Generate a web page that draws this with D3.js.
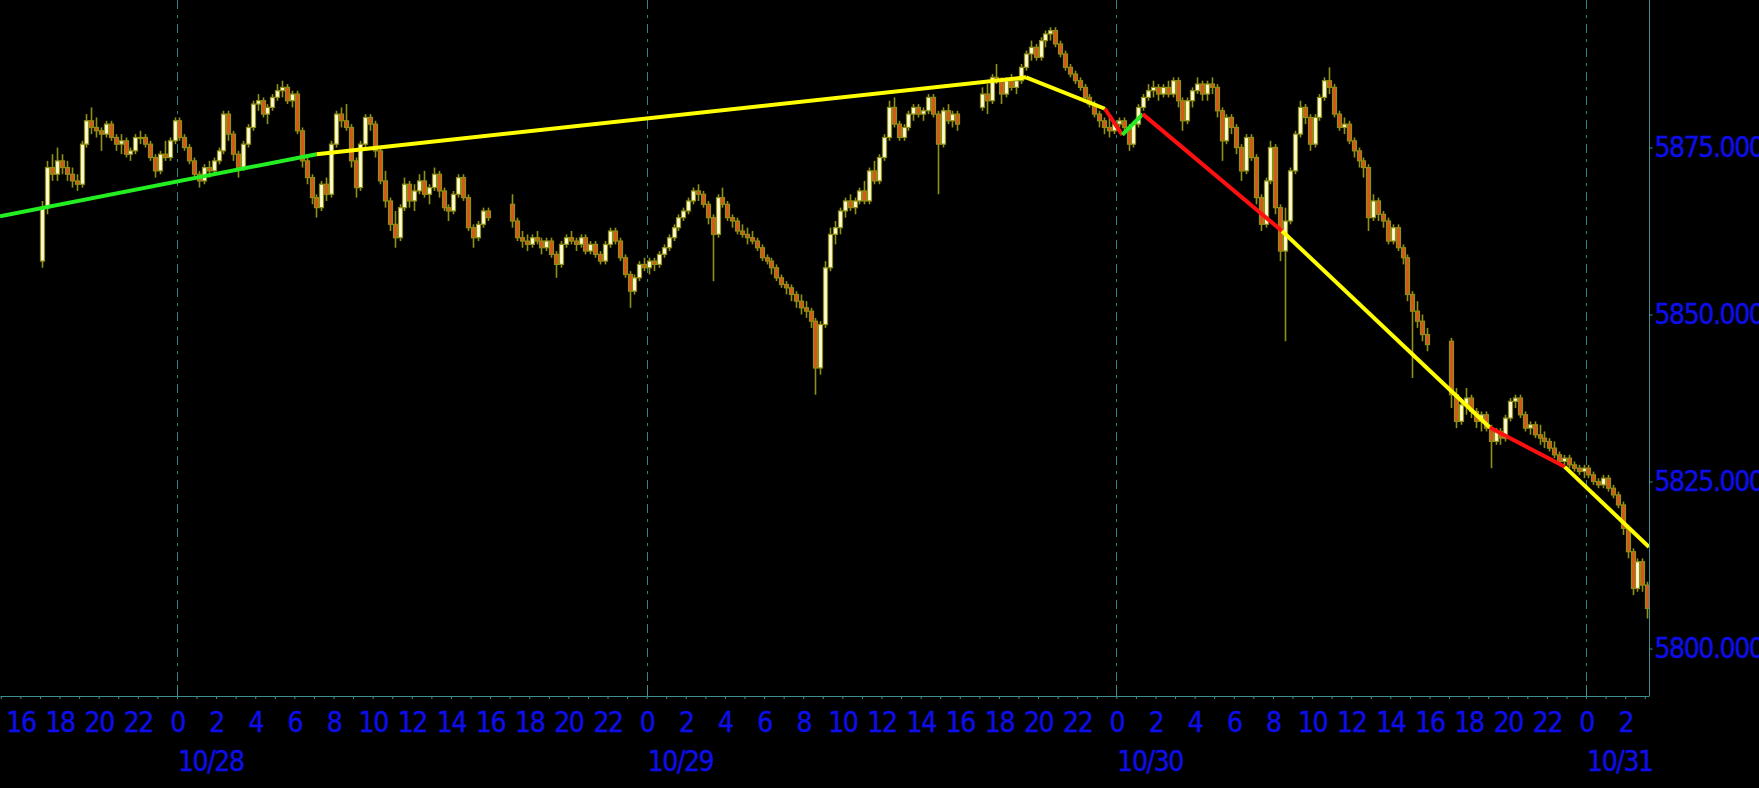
<!DOCTYPE html>
<html><head><meta charset="utf-8">
<script src="https://cdn.jsdelivr.net/npm/d3@7"></script>
<style>html,body{margin:0;padding:0;background:#000;overflow:hidden}svg{display:block}</style>
</head><body>
<svg id="c" width="1759" height="788"></svg>
<script>
// ---------- DATA (15-minute bars, [open, high, low, close]) ----------
const sessionStarts = ["2024-10-27T17:00:00Z","2024-10-28T17:00:00Z","2024-10-29T17:00:00Z","2024-10-30T17:00:00Z"];
const barMinutes = 15;
const session1 = [
[5858,5867,5857,5866],[5866,5873,5865,5872],[5872,5874,5870,5871],[5871,5875,5870,5873],
[5873,5874,5871,5872],[5872,5873,5870,5871],[5871,5872,5869,5870],[5870,5871,5868.5,5869.5],
[5869.5,5876,5869,5875.5],[5875.5,5880,5875,5879],[5879,5881,5877,5878],[5878,5879.5,5876.5,5877.5],
[5877.5,5878,5874.5,5877],[5877,5879,5876.5,5878.5],[5878.5,5879,5876,5876.5],[5876.5,5877,5874.5,5875.5],
[5875.5,5877,5874,5876],[5876,5876.5,5873.5,5874],[5874,5875,5873,5874.5],[5874.5,5877,5874,5876.5],
[5876.5,5877.5,5875.5,5876.5],[5876.5,5877,5875,5875.5],[5875.5,5876,5873,5873.5],[5873.5,5874,5870.5,5871.5],
[5871.5,5874.5,5871,5874],[5874,5876,5873,5873.5],[5873.5,5876.5,5873,5876],[5876,5879.5,5875.5,5879],
[5879,5879.5,5876,5876.5],[5876.5,5877,5874.5,5875],[5875,5875.5,5872.5,5873],[5873,5873.5,5870.5,5871],
[5871,5871.5,5869,5870],[5870,5872.5,5869.5,5872],[5872,5873,5870.5,5871.5],[5871.5,5873.5,5871,5873],
[5873,5875,5872.5,5874.5],[5874.5,5880.5,5874,5880],[5880,5880.5,5876,5877],[5877,5877.5,5873,5874],
[5874,5874.5,5870.5,5872],[5872,5876,5871.5,5875.5],[5875.5,5878.5,5875,5878],[5878,5882,5877.5,5881.5],
[5881.5,5883,5880.5,5882],[5882,5882.5,5879.5,5880],[5880,5881.5,5878.5,5881],[5881,5883,5880.5,5882.5],
[5882.5,5884.5,5882,5883.5],[5883.5,5885,5882.5,5884],[5884,5884.5,5881.5,5882],[5882,5883.5,5881,5883],
[5883,5883.5,5877,5877.5],[5877.5,5878,5872,5873],[5873,5874,5869.5,5870.5],[5870.5,5871,5866.5,5867.5],
[5867.5,5868,5864.5,5866],[5866,5870,5865.5,5869.5],[5869.5,5870.5,5867,5868],[5868,5876,5867.5,5875.5],
[5875.5,5880.5,5875,5880],[5880,5881,5878,5879],[5879,5881.5,5877.5,5878],[5878,5878.5,5872,5873],
[5873,5873.5,5867.5,5869],[5869,5876,5868.5,5875.5],[5875.5,5880,5875,5879.5],[5879.5,5880,5877.5,5878.5],
[5878.5,5879,5873.5,5874.5],[5874.5,5875,5869.5,5870],[5870,5871.5,5866,5867],[5867,5867.5,5862.5,5863.5],
[5863.5,5865.5,5860,5861.5],[5861.5,5866.5,5861,5866],[5866,5870.5,5865.5,5869.5],[5869.5,5870,5866,5867],
[5867,5869.5,5865.5,5868.5],[5868.5,5871,5868,5870],[5870,5871.5,5867.5,5868],[5868,5869.5,5866.5,5869],
[5869,5872,5868.5,5871],[5871,5871.5,5867.5,5868.5],[5868.5,5869,5865.5,5866],[5866,5866.5,5864,5865.5],
[5865.5,5868.5,5865,5868],[5868,5871,5867.5,5870.5],[5870.5,5871,5867,5867.5],[5867.5,5868,5862.5,5863],
[5863,5863.5,5860,5861.5],[5861.5,5864,5861,5863.5],[5863.5,5866,5863,5865.5],[5865.5,5866,5864,5864.5]
];
const session2 = [
[5866.5,5868,5863,5864],[5864,5864.5,5861,5861.5],[5861.5,5862.5,5860,5861],[5861,5862,5859.5,5860.5],
[5860.5,5862,5860,5861.5],[5861.5,5862.5,5860.5,5861],[5861,5861.5,5859,5860],[5860,5861.5,5859.5,5861],
[5861,5861.5,5858.5,5859],[5859,5859.5,5855.5,5857.5],[5857.5,5861,5857,5860.5],[5860.5,5862,5860,5861.5],
[5861.5,5862.5,5860.5,5861],[5861,5861.5,5859.5,5860.5],[5860.5,5862,5860,5861.5],[5861.5,5862,5859,5859.5],
[5859.5,5861,5859,5860.5],[5860.5,5861,5858.5,5859],[5859,5859.5,5857.5,5858],[5858,5861,5857.5,5860.5],
[5860.5,5863,5860,5862.5],[5862.5,5863,5860.5,5861],[5861,5861.5,5858,5858.5],[5858.5,5859,5855.5,5856],
[5856,5856.5,5851,5853.5],[5853.5,5856,5853,5855.5],[5855.5,5858,5855,5857.5],[5857.5,5858.5,5856.5,5857],
[5857,5858.5,5856,5858],[5858,5858.5,5856.5,5857.5],[5857.5,5859.5,5857,5859],[5859,5860.5,5858.5,5860],
[5860,5862,5859.5,5861.5],[5861.5,5863.5,5861,5863],[5863,5865,5862.5,5864.5],[5864.5,5866,5864,5865.5],
[5865.5,5867.5,5865,5867],[5867,5869,5866.5,5868.5],[5868.5,5869.5,5867,5868],[5868,5868.5,5866,5866.5],
[5866.5,5867,5863.5,5864.5],[5864.5,5865,5855,5862],[5862,5868,5861.5,5867.5],[5867.5,5869,5866,5866.5],
[5866.5,5867,5864,5864.5],[5864.5,5865,5863,5864],[5864,5864.5,5862,5862.5],[5862.5,5863.5,5861.5,5862],
[5862,5863,5860.5,5861.5],[5861.5,5862.5,5860.5,5861],[5861,5861.5,5859.5,5860],[5860,5860.5,5858,5858.5],
[5858.5,5859,5857.5,5858],[5858,5858.5,5856,5857],[5857,5857.5,5855,5855.5],[5855.5,5856,5854,5854.5],
[5854.5,5855,5853,5854],[5854,5854.5,5852,5853],[5853,5853.5,5851,5852],[5852,5853,5850,5851],
[5851,5852,5849.5,5850.5],[5850.5,5851,5848,5849],[5849,5849.5,5838,5842],[5842,5849,5841,5848.5],
[5848.5,5858,5848,5857],[5857,5863,5856.5,5862],[5862,5864,5860.5,5863],[5863,5866,5862,5865.5],
[5865.5,5867.5,5864.5,5867],[5867,5868,5865.5,5866],[5866,5867.5,5865,5867],[5867,5869,5866.5,5868.5],
[5868.5,5870,5866.5,5867],[5867,5872,5866.5,5871.5],[5871.5,5873,5869.5,5870],[5870,5874,5869.5,5873.5],
[5873.5,5877,5873,5876.5],[5876.5,5882,5876,5881],[5881,5882.5,5878,5878.5],[5878.5,5879,5876,5876.5],
[5876.5,5878.5,5876,5878],[5878,5880.5,5877.5,5880],[5880,5881.5,5879,5881],[5881,5881.5,5879.5,5880],
[5880,5881,5879,5880.5],[5880.5,5883,5880,5882.5],[5882.5,5883,5879.5,5880],[5880,5880.5,5868,5875.5],
[5875.5,5881,5875,5880.5],[5880.5,5881.5,5878.5,5879],[5879,5880.5,5878,5880],[5880,5880.5,5877.5,5878.5]
];
const session3 = [
[5881,5884,5880.5,5883],[5883,5884.5,5880,5882],[5882,5886,5881.5,5885.5],[5885.5,5887.5,5884.5,5885],
[5885,5885.5,5881.5,5883],[5883,5885.5,5882.5,5885],[5885,5886,5883.5,5884],[5884,5885.5,5883,5885],
[5885,5887.5,5884.5,5887],[5887,5889.5,5886.5,5889],[5889,5891,5888,5890],[5890,5890.5,5888,5888.5],
[5888.5,5891.5,5888,5891],[5891,5892.5,5890,5892],[5892,5893,5891,5892.5],[5892.5,5893,5890,5890.5],
[5890.5,5891,5888.5,5889],[5889,5889.5,5886.5,5887],[5887,5887.5,5885.5,5886],[5886,5886.5,5884.5,5885],
[5885,5885.5,5883.5,5884],[5884,5884.5,5882,5882.5],[5882.5,5883,5881,5881.5],[5881.5,5882,5879.5,5880],
[5880,5880.5,5878,5879],[5879,5879.5,5877,5878],[5878,5879.5,5876.5,5877.5],[5877.5,5879,5877,5878.5],
[5878.5,5879.5,5878,5879],[5879,5879.5,5877.5,5878],[5878,5878.5,5874.5,5875.5],[5875.5,5879,5875,5878.5],
[5878.5,5881.5,5878,5881],[5881,5883,5880.5,5882.5],[5882.5,5884.5,5882,5883.5],[5883.5,5885,5882.5,5884],
[5884,5884.5,5882,5883],[5883,5884.5,5882.5,5884],[5884,5885,5882.5,5883],[5883,5885.5,5882.5,5885],
[5885,5885.5,5881,5882],[5882,5882.5,5877.5,5879],[5879,5882.5,5878.5,5882],[5882,5884,5881,5883.5],
[5883.5,5885.5,5883,5884.5],[5884.5,5885,5882,5883],[5883,5885,5882,5884.5],[5884.5,5885.5,5883,5884],
[5884,5884.5,5879.5,5880.5],[5880.5,5881,5873,5876],[5876,5880,5875.5,5879.5],[5879.5,5880,5877,5878],
[5878,5878.5,5874,5875],[5875,5875.5,5870,5871.5],[5871.5,5877,5871,5876.5],[5876.5,5877,5873,5873.5],
[5873.5,5874,5866.5,5867.5],[5867.5,5868,5862.5,5863.5],[5863.5,5870.5,5863,5870],[5870,5876,5869.5,5875],
[5875,5875.5,5865,5866],[5866,5866.5,5858,5859.5],[5859.5,5866,5846,5864],[5864,5872,5863.5,5871.5],
[5871.5,5877.5,5871,5877],[5877,5882,5876.5,5881],[5881,5881.5,5878.5,5879.5],[5879.5,5880,5874.5,5875.5],
[5875.5,5880,5875,5879.5],[5879.5,5883,5879,5882.5],[5882.5,5885.5,5882,5885],[5885,5887,5883,5884],
[5884,5884.5,5879.5,5880],[5880,5880.5,5877.5,5878],[5878,5879.5,5877,5878.5],[5878.5,5879,5875.5,5876],
[5876,5876.5,5873.5,5874.5],[5874.5,5875,5872,5873],[5873,5873.5,5870.5,5872],[5872,5872.5,5862.5,5864.5],
[5864.5,5868,5864,5867],[5867,5867.5,5864,5865],[5865,5865.5,5863,5864],[5864,5864.5,5860.5,5861],
[5861,5863.5,5860.5,5863],[5863,5863.5,5859.5,5860],[5860,5860.5,5857.5,5858.5],[5858.5,5859,5852,5853],
[5853,5853.5,5840.5,5850.5],[5850.5,5852,5848,5849],[5849,5850,5846,5847],[5847,5848,5844.5,5845.5]
];
const session4 = [
[5846,5846.5,5836,5838],[5838,5839,5833,5834],[5834,5837,5833.5,5836.5],[5836.5,5839,5835,5837.5],
[5837.5,5838,5834.5,5835.5],[5835.5,5836,5833,5834],[5834,5835.5,5832.5,5835],[5835,5835.5,5832.5,5833],
[5833,5833.5,5827,5831],[5831,5833,5830.5,5832.5],[5832.5,5833,5830.5,5831.5],[5831.5,5835,5831,5834.5],
[5834.5,5837.5,5834,5837],[5837,5838,5836,5837.5],[5837.5,5838,5834.5,5835],[5835,5835.5,5832.5,5833],
[5833,5834,5832,5833.5],[5833.5,5834,5831.5,5832],[5832,5833.5,5830.5,5831.5],[5831.5,5832.5,5830,5831],
[5831,5831.5,5829.5,5830],[5830,5831,5828.5,5829],[5829,5829.5,5827.5,5828],[5828,5829,5827,5828.5],
[5828.5,5829,5827,5827.5],[5827.5,5828,5826.5,5827],[5827,5827.5,5826,5826.5],[5826.5,5827.5,5825.5,5827],
[5827,5827.5,5825.5,5826],[5826,5826.5,5824.5,5825],[5825,5825.5,5824,5824.5],[5824.5,5826,5824,5825.5],
[5825.5,5826,5823.5,5824],[5824,5824.5,5822.5,5823],[5823,5823.5,5821,5821.5],[5821.5,5822,5817,5818],
[5818,5818.5,5813.5,5814.5],[5814.5,5815,5808,5809],[5809,5813.5,5808.5,5813],[5813,5813.5,5808.5,5809.5],
[5809.5,5810,5804.5,5806]
];
const sessions = [session1, session2, session3, session4];

// trend-line vertices (time, price) and segment colours
const trendTimes  = ["2024-10-27T14:57:30Z","2024-10-28T07:08:00Z","2024-10-29T19:23:00Z","2024-10-29T23:25:00Z",
                     "2024-10-30T00:18:00Z","2024-10-30T01:21:00Z","2024-10-30T08:28:00Z","2024-10-30T19:05:00Z",
                     "2024-10-30T22:55:00Z","2024-10-31T03:13:00Z"];
const trendPrices = [5864.7,5874.0,5885.5,5880.8,5876.9,5880.0,5862.5,5833.1,5827.2,5815.2];
const trendColors = ["#22ee22","#ffff00","#ffff00","#ff1010","#22ee22","#ff1010","#ffff00","#ff1010","#ffff00"];

const priceTicks = [5800,5825,5850,5875];
const timeDomain = ["2024-10-27T14:57:30Z","2024-10-31T03:13:00Z"];
const priceDomain = [5792.9,5897.08];

// ---------- CHART ----------
const W = 1759, H = 788, plotW = 1649, plotH = 696;
const svg = d3.select("#c");
svg.append("rect").attr("width",W).attr("height",H).attr("fill","#000");

const x = d3.scaleUtc().domain(timeDomain.map(d=>new Date(d))).range([0,plotW]);
const y = d3.scaleLinear().domain(priceDomain).range([plotH,0]);

svg.append("defs").append("clipPath").attr("id","clip")
  .append("rect").attr("x",0).attr("y",0).attr("width",plotW).attr("height",plotH);

const AXIS = "#3f8f8f", LABEL = "#0e0ee8", FONT = "'DejaVu Sans Condensed','DejaVu Sans',sans-serif";
const styleText = sel => sel.attr("fill",LABEL).attr("font-family",FONT).attr("font-size",28)
  .attr("letter-spacing","-1.4px").attr("stroke",LABEL).attr("stroke-width",0.4);

// midnight gridlines
const midnights = d3.utcDay.range(x.domain()[0], x.domain()[1]);
svg.append("g").selectAll("line").data(midnights).join("line")
  .attr("x1",d=>Math.round(x(d))+0.5).attr("x2",d=>Math.round(x(d))+0.5)
  .attr("y1",0).attr("y2",plotH)
  .attr("stroke","#2f8484").attr("stroke-width",1).attr("stroke-dasharray","9,6,3,6");

// candles
const bars = [];
sessions.forEach((s,si)=>{
  const t0 = new Date(sessionStarts[si]).getTime();
  s.forEach((b,i)=>bars.push({t:new Date(t0 + (i*barMinutes + barMinutes/2)*60000), o:b[0], h:b[1], l:b[2], c:b[3]}));
});
const cg = svg.append("g").attr("clip-path","url(#clip)");
const OLIVE = "#8f8f14";
cg.selectAll("line.w").data(bars).join("line").attr("class","w")
  .attr("x1",d=>Math.round(x(d.t))+0.5).attr("x2",d=>Math.round(x(d.t))+0.5)
  .attr("y1",d=>y(d.h)).attr("y2",d=>y(d.l))
  .attr("stroke",OLIVE).attr("stroke-width",1.6);
cg.selectAll("rect.b").data(bars).join("rect").attr("class","b")
  .attr("x",d=>Math.round(x(d.t))-1.5)
  .attr("width",4)
  .attr("y",d=>y(Math.max(d.o,d.c)))
  .attr("height",d=>Math.max(1,Math.abs(y(d.o)-y(d.c))))
  .attr("fill",d=>d.c>=d.o?"#fffbd8":"#d8561c")
  .attr("stroke",OLIVE).attr("stroke-width",1.2);

// trend lines
const tpts = trendTimes.map((t,i)=>[new Date(t), trendPrices[i]]);
const line = d3.line().x(d=>x(d[0])).y(d=>y(d[1]));
const tg = svg.append("g").attr("clip-path","url(#clip)");
trendColors.forEach((col,i)=>{
  tg.append("path").attr("d",line([tpts[i],tpts[i+1]]))
    .attr("fill","none").attr("stroke",col).attr("stroke-width",4).attr("stroke-linecap","butt");
});

// bottom axis: hourly ticks
const hours = d3.utcHour.range(x.domain()[0], x.domain()[1]);
const gx = svg.append("g").attr("transform",`translate(0,${plotH})`)
  .call(d3.axisBottom(x).tickValues(hours).tickSize(3).tickSizeOuter(0).tickFormat(""));
gx.select(".domain").attr("stroke",AXIS);
gx.selectAll(".tick line").attr("stroke",AXIS);
// midnight ticks (upward)
svg.append("g").selectAll("line").data(midnights).join("line")
  .attr("x1",d=>Math.round(x(d))+0.5).attr("x2",d=>Math.round(x(d))+0.5)
  .attr("y1",plotH-11).attr("y2",plotH).attr("stroke",AXIS);
// hour labels every 2 h
const labelHours = d3.utcHour.every(2).range(x.domain()[0], x.domain()[1]);
const gl = svg.append("g").attr("transform",`translate(0,${plotH})`)
  .call(d3.axisBottom(x).tickValues(labelHours).tickSize(0).tickPadding(0).tickFormat(d=>d.getUTCHours()));
gl.select(".domain").remove();
gl.selectAll("text").call(styleText).attr("y",36).attr("dy",null);
// date labels
svg.append("g").selectAll("text").data(midnights).join("text")
  .attr("x",d=>x(d)+1).attr("y",771)
  .call(styleText)
  .text(d=>`${d.getUTCMonth()+1}/${d.getUTCDate()}`);

// right price axis
const gy = svg.append("g").attr("transform",`translate(${plotW+0.5},0)`)
  .call(d3.axisRight(y).tickValues(priceTicks).tickSize(3).tickPadding(2).tickFormat(d3.format(".3f")));
gy.select(".domain").attr("stroke",AXIS).attr("d",`M0,0V${plotH}`);
gy.selectAll(".tick line").attr("stroke",AXIS);
gy.selectAll("text").call(styleText);
</script>
</body></html>
